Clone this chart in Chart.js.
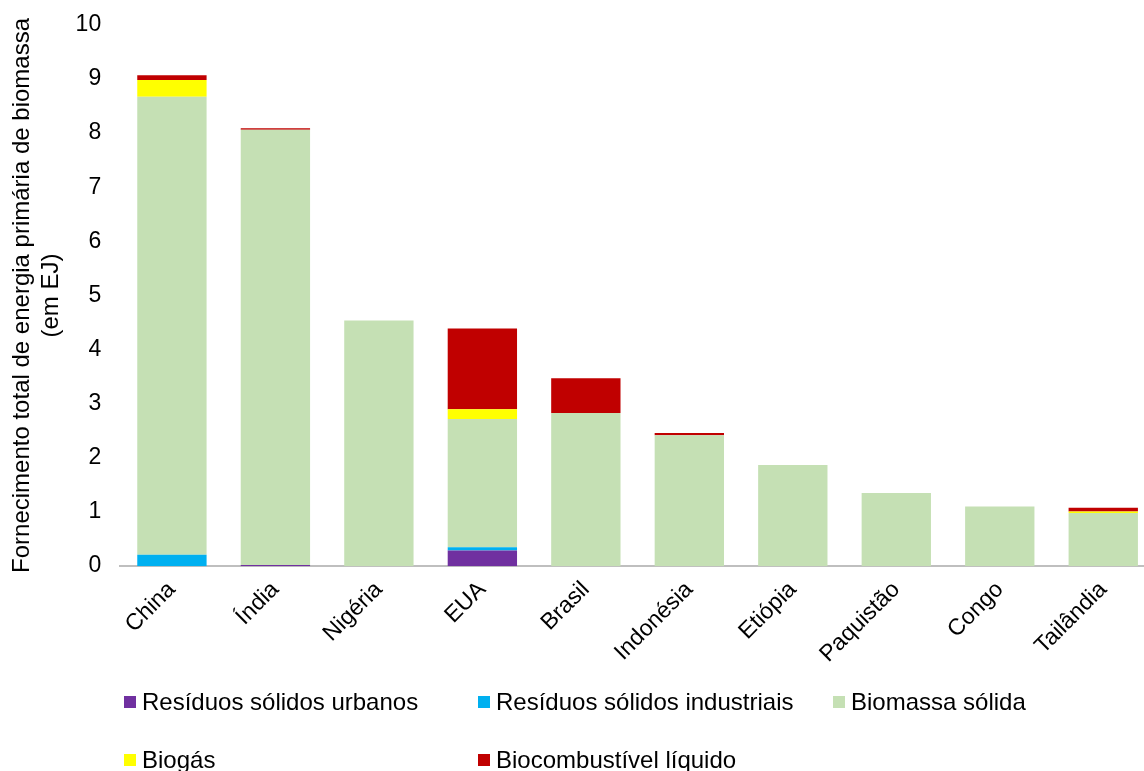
<!DOCTYPE html>
<html>
<head>
<meta charset="utf-8">
<script src="https://cdn.jsdelivr.net/npm/chart.js@4/dist/chart.umd.min.js"></script>
<style>
  html, body { margin: 0; padding: 0; background: #fff; overflow: hidden; }
  #wrap { position: absolute; left: 0; top: -8px; width: 1160px; height: 779px; }
  #legend { position: absolute; left: 0; top: 0; width: 1144px; height: 771px; pointer-events: none;
            font-family: 'Liberation Sans', Arial, sans-serif; font-size: 24px; color: #000; }
  .item { position: absolute; display: flex; align-items: center; white-space: nowrap; }
  .box { width: 12px; height: 12px; margin-right: 6px; }
</style>
</head>
<body>
<div id="wrap"><canvas id="biomassChart"></canvas></div>
<div id="legend"></div>
<script>
const categories = ['China', 'Índia', 'Nigéria', 'EUA', 'Brasil', 'Indonésia', 'Etiópia', 'Paquistão', 'Congo', 'Tailândia'];
const residuosUrbanos = [0, 0.02, 0, 0.29, 0, 0, 0, 0, 0, 0];
const residuosIndustriais = [0.21, 0, 0, 0.06, 0, 0, 0, 0, 0, 0];
const biomassaSolida = [8.46, 8.04, 4.54, 2.37, 2.83, 2.42, 1.87, 1.35, 1.10, 0.98];
const biogas = [0.31, 0, 0, 0.18, 0, 0, 0, 0, 0, 0.03];
const biocombustivel = [0.09, 0.03, 0, 1.49, 0.64, 0.04, 0, 0, 0, 0.07];
const yTicks = [0, 1, 2, 3, 4, 5, 6, 7, 8, 9, 10];

const font = "'Liberation Sans', Arial, sans-serif";

const series = [
    { label: 'Resíduos sólidos urbanos', data: residuosUrbanos, color: '#7030A0' },
    { label: 'Resíduos sólidos industriais', data: residuosIndustriais, color: '#00B0F0' },
    { label: 'Biomassa sólida', data: biomassaSolida, color: '#C5E0B4' },
    { label: 'Biogás', data: biogas, color: '#FFFF00' },
    { label: 'Biocombustível líquido', data: biocombustivel, color: '#C00000' }
];

const ctx = document.getElementById('biomassChart').getContext('2d');
new Chart(ctx, {
    type: 'bar',
    data: {
        labels: categories,
        datasets: series.map(s => ({
            label: s.label,
            data: s.data,
            backgroundColor: s.color,
            borderWidth: 0,
            categoryPercentage: 1,
            barPercentage: 0.67
        }))
    },
    options: {
        responsive: true,
        maintainAspectRatio: false,
        animation: false,
        layout: { padding: { top: 0, right: 5, bottom: 93, left: 8 } },
        plugins: {
            legend: { display: false },
            tooltip: { enabled: false }
        },
        scales: {
            x: {
                stacked: true,
                grid: { display: false, drawTicks: false },
                border: { color: '#BFBFBF', width: 2 },
                ticks: {
                    color: '#000',
                    font: { family: font, size: 23 },
                    minRotation: 45,
                    maxRotation: 45,
                    padding: 10
                }
            },
            y: {
                stacked: true,
                min: 0,
                max: 10,
                afterBuildTicks: axis => { axis.ticks = yTicks.map(v => ({ value: v })); },
                grid: { display: false, drawTicks: false },
                border: { display: false },
                ticks: {
                    color: '#000',
                    font: { family: font, size: 23 },
                    padding: 19
                },
                title: {
                    display: true,
                    text: ['Fornecimento total de energia primária de biomassa', '(em EJ)'],
                    color: '#000',
                    font: { family: font, size: 24 },
                    padding: { top: 0, bottom: -9 }
                }
            }
        }
    }
});

// legend in three fixed columns, like the original
const legendEl = document.getElementById('legend');
const colX = [124, 478, 833];
const rowY = [702, 760];
series.forEach((s, i) => {
    const item = document.createElement('div');
    item.className = 'item';
    item.style.left = colX[i % 3] + 'px';
    item.style.top = (rowY[Math.floor(i / 3)] - 14) + 'px';
    item.style.height = '28px';
    const box = document.createElement('span');
    box.className = 'box';
    box.style.background = s.color;
    const txt = document.createElement('span');
    txt.textContent = s.label;
    item.appendChild(box);
    item.appendChild(txt);
    legendEl.appendChild(item);
});
</script>
</body>
</html>
